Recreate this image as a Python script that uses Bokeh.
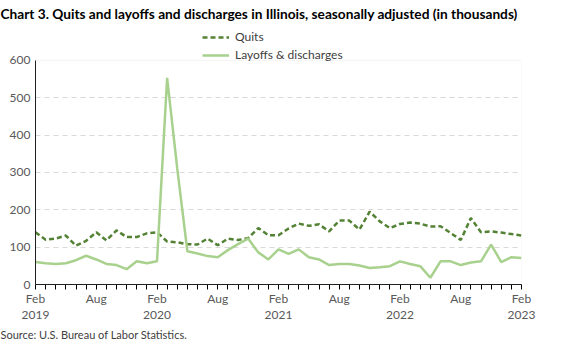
from bokeh.plotting import figure
from bokeh.models import (Range1d, FixedTicker, Legend, LegendItem, Title, BoxAnnotation)
from bokeh.embed import file_html
from bokeh.resources import INLINE

months = list(range(49))  # Feb 2019 .. Feb 2023
quits = [140, 120, 123, 131, 104, 117, 140, 118, 145, 127, 127, 137, 140,
         115, 113, 108, 107, 123, 105, 123, 119, 124, 151, 132, 132, 150,
         163, 157, 161, 142, 171, 171, 147, 195, 169, 151, 162, 166, 163,
         155, 156, 138, 119, 178, 140, 142, 139, 135, 131]
layoffs = [60, 57, 55, 57, 65, 77, 67, 55, 52, 41, 62, 57, 62,
           553, 310, 89, 83, 76, 73, 92, 108, 123, 86, 67, 94, 82,
           94, 73, 67, 52, 55, 55, 51, 44, 46, 49, 62, 55, 49,
           18, 62, 62, 52, 59, 62, 107, 60, 73, 71]
tick_labels = {0: "Feb\n2019", 6: "Aug", 12: "Feb\n2020", 18: "Aug",
               24: "Feb\n2021", 30: "Aug", 36: "Feb\n2022", 42: "Aug",
               48: "Feb\n2023"}
y_ticks = [0, 100, 200, 300, 400, 500, 600]

FONT = "Lato"
p = figure(width=547, height=340, output_backend="svg", toolbar_location=None,
           x_range=Range1d(0, 48), y_range=Range1d(0, 698.6),
           min_border_left=35, min_border_right=26, min_border_top=23,
           min_border_bottom=0)
p.title.text = "Chart 3. Quits and layoffs and discharges in Illinois, seasonally adjusted (in thousands)"
p.title.text_font = FONT
p.title.text_font_size = "13.7px"
p.title.text_font_style = "bold"
p.title.text_color = "#000000"
p.title.align = "left"
p.title.offset = -35
p.title.standoff = 4

p.outline_line_color = None
p.background_fill_color = "white"
p.border_fill_color = "white"

# plot-area border (top and right) at the data limits
p.add_layout(BoxAnnotation(left=0, right=48, bottom=0, top=600,
                           fill_alpha=0, line_color="#d9d9d9", line_width=1))

r1 = p.line(months, quits, line_color="#548235", line_width=2.5, line_dash="5 3")
r2 = p.line(months, layoffs, line_color="#a9d18e", line_width=2.5)

# axes
xa = p.xaxis[0]
xa.ticker = FixedTicker(ticks=months)
xa.major_label_overrides = {m: tick_labels.get(m, "") for m in months}
xa.major_tick_out = 5
xa.major_tick_in = 0
xa.minor_tick_line_color = None
xa.axis_line_color = "#000000"
xa.major_tick_line_color = "#000000"
xa.major_label_text_font = FONT
xa.major_label_text_font_size = "12px"
xa.major_label_text_color = "#595959"
xa.major_label_text_line_height = 1.1
xa.major_label_standoff = 1

ya = p.yaxis[0]
ya.ticker = FixedTicker(ticks=y_ticks)
ya.bounds = (0, 600)
ya.major_tick_out = 0
ya.major_tick_in = 0
ya.minor_tick_line_color = None
ya.axis_line_color = "#000000"
ya.major_label_text_font = FONT
ya.major_label_text_font_size = "12px"
ya.major_label_text_color = "#595959"
ya.major_label_standoff = 5

p.xgrid.grid_line_color = None
p.ygrid.grid_line_color = "#d9d9d9"
p.ygrid.grid_line_dash = "5 4"
p.ygrid.ticker = FixedTicker(ticks=y_ticks[1:-1])

legend = Legend(items=[LegendItem(label="Quits", renderers=[r1]),
                       LegendItem(label="Layoffs & discharges", renderers=[r2])],
                location=(165, 220), orientation="vertical",
                glyph_width=27, glyph_height=14, label_height=14,
                label_standoff=6, spacing=3, padding=2, margin=0,
                border_line_alpha=0, background_fill_alpha=0,
                label_text_font=FONT, label_text_font_size="12px",
                label_text_color="#404040")
p.add_layout(legend, "center")

src = Title(text="Source: U.S. Bureau of Labor Statistics.", align="left",
            offset=-35, text_font=FONT, text_font_size="11px",
            text_font_style="normal", text_color="#404040", standoff=0)
p.add_layout(src, "below")

open("out.html", "w").write(file_html(p, INLINE))
